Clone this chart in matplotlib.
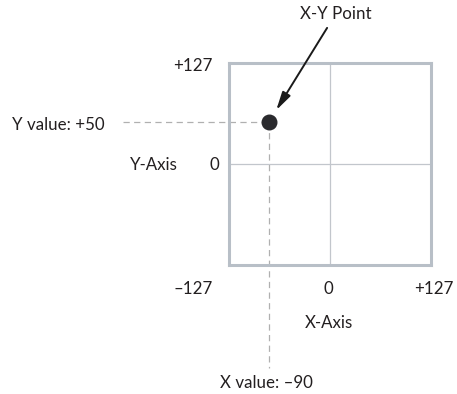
import matplotlib
matplotlib.use("Agg")
import matplotlib.pyplot as plt

plt.rcParams['font.family'] = ['Lato', 'DejaVu Sans']

W, H = 457, 394

# axis range and the marked point (as drawn in the picture)
axis_min, axis_max = -127, 127
point_x, point_y = -76, 53
x_label = "X value: \u201390"
y_label = "Y value: +50"
x_ticks = ["\u2013127", "0", "+127"]
y_ticks = ["+127", "0"]

fig = plt.figure(figsize=(W / 100, H / 100), dpi=100)

# square box, in pixels: left 228.5, top 63.5, right 430.5, bottom 264.5
ax = fig.add_axes([228.5 / W, 1 - 264.5 / H, 202 / W, 201 / H])
ax.set_xlim(axis_min, axis_max)
ax.set_ylim(axis_min, axis_max)
ax.set_xticks([])
ax.set_yticks([])
for s in ax.spines.values():
    s.set_linewidth(2.2)
    s.set_color('#b8bfc7')

ax.axhline(0, color='#c2c6cc', lw=0.9)
ax.axvline(0, color='#c2c6cc', lw=0.9)

# dashed guides running out of the box to the value labels
dash = dict(color='#b0b0b0', lw=0.9, ls=(0, (5, 3.5)), clip_on=False)
ax.plot([-260, point_x], [point_y, point_y], **dash)
ax.plot([point_x, point_x], [point_y, -258], **dash)

ax.scatter([point_x], [point_y], s=110, color='#2a2a2e', zorder=5, clip_on=False)

ax.annotate("", xy=(-67, 68), xytext=(-3, 172), annotation_clip=False,
            arrowprops=dict(arrowstyle='-|>,head_length=1.0,head_width=0.25',
                            mutation_scale=11, lw=1.4, color='#1a1a1a',
                            shrinkA=0, shrinkB=0))


def px_text(x, y, s, ha='center'):
    fig.text(x / W, 1 - y / H, s, ha=ha, va='center', fontsize=12.2, color='#231f20')


px_text(336, 14, "X-Y Point")
px_text(213, 66, y_ticks[0], ha='right')
px_text(219, 165, y_ticks[1], ha='right')
px_text(178, 165, "Y-Axis", ha='right')
px_text(12, 125, y_label, ha='left')
px_text(213, 289, x_ticks[0], ha='right')
px_text(328, 289, x_ticks[1])
px_text(434, 289, x_ticks[2])
px_text(329, 323, "X-Axis")
px_text(266.5, 383, x_label)

fig.savefig("out.png", dpi=100)
